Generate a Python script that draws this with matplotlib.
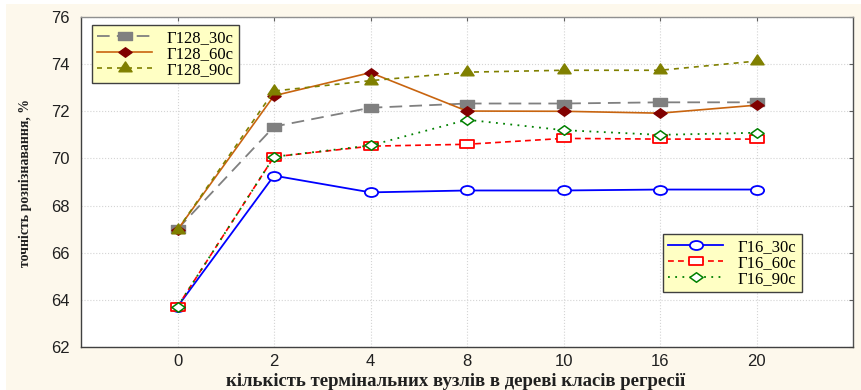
import numpy as np
import matplotlib
matplotlib.use("Agg")
import matplotlib.pyplot as plt
from matplotlib.path import Path
from matplotlib.markers import MarkerStyle
from matplotlib.patches import Rectangle

# Number of terminal nodes in the regression tree (categorical axis)
nodes = ["0", "2", "4", "8", "10", "16", "20"]

# Recognition accuracy, %
g128_30 = [67.0, 71.35, 72.15, 72.33, 72.33, 72.38, 72.38]
g128_60 = [66.97, 72.66, 73.64, 72.01, 72.0, 71.92, 72.26]
g128_90 = [66.97, 72.86, 73.30, 73.66, 73.74, 73.74, 74.13]
g16_30 = [63.71, 69.27, 68.56, 68.64, 68.64, 68.68, 68.68]
g16_60 = [63.71, 70.07, 70.52, 70.60, 70.85, 70.82, 70.82]
g16_90 = [63.71, 70.07, 70.55, 71.64, 71.20, 71.00, 71.09]

yticks = [62, 64, 66, 68, 70, 72, 74, 76]


def wide_marker(verts):
    verts = np.asarray(verts, float)
    codes = [Path.MOVETO] + [Path.LINETO] * (len(verts) - 2) + [Path.CLOSEPOLY]
    return MarkerStyle(Path(verts, codes))


circ = Path.unit_circle()
ellipse = MarkerStyle(Path(circ.vertices * np.array([1.0, 0.68]), circ.codes))
rect = wide_marker([(-1, -0.68), (1, -0.68), (1, 0.68), (-1, 0.68), (-1, -0.68)])
diamond = wide_marker([(0, -0.72), (1, 0), (0, 0.72), (-1, 0), (0, -0.72)])
triangle = wide_marker([(-1, -0.5), (1, -0.5), (0, 1.0), (-1, -0.5)])

fig = plt.figure(figsize=(8.61, 3.90), dpi=100, facecolor="white")
fig.patches.append(Rectangle((6 / 861, 0), 1, 1 - 4 / 390, transform=fig.transFigure,
                             facecolor="#fdf8ec", edgecolor="none", zorder=-10))

W, H = 861, 390
ax = fig.add_axes([81 / W, 1 - 347 / H, (853 - 81) / W, (347 - 17) / H])
ax.set_facecolor("white")

x = np.arange(len(nodes))
ms = 9.5

# Г16 series
l16_30, = ax.plot(x, g16_30, color="#0000ff", lw=1.3, ls="-", marker=ellipse, ms=ms,
                  mfc="white", mec="#0000ff", mew=1.3, label="Г16_30с")
l16_60, = ax.plot(x, g16_60, color="#ff0000", lw=1.2, ls=(0, (3.5, 2.5)), marker=rect, ms=ms,
                  mfc="white", mec="#ff0000", mew=1.3, label="Г16_60с")
l16_90, = ax.plot(x, g16_90, color="#008000", lw=1.3, ls=(0, (1, 3)), marker=diamond, ms=ms,
                  mfc="white", mec="#008000", mew=1.1, label="Г16_90с")

# Г128 series
l128_30, = ax.plot(x, g128_30, color="#808080", lw=1.3, ls=(0, (7, 4)), marker=rect, ms=ms,
                   mfc="#808080", mec="#808080", label="Г128_30с")
l128_60, = ax.plot(x, g128_60, color="#c8640f", lw=1.2, ls="-", marker=diamond, ms=ms,
                   mfc="#800000", mec="#800000", label="Г128_60с")
l128_90, = ax.plot(x, g128_90, color="#808000", lw=1.2, ls=(0, (3, 3)), marker=triangle, ms=ms,
                   mfc="#808000", mec="#808000", label="Г128_90с")

ax.set_xlim(-1, 7)
ax.set_ylim(62, 76)
ax.set_xticks(x)
ax.set_xticklabels(nodes)
ax.set_yticks(yticks)

ax.grid(True, color="#d4d4d4", ls=":", lw=0.8)
ax.set_axisbelow(True)

for lab in ax.get_xticklabels() + ax.get_yticklabels():
    lab.set_fontfamily("Liberation Sans")
    lab.set_fontsize(12)
    lab.set_color("#202020")

ax.tick_params(axis="x", which="both", bottom=False, top=True, direction="in",
               length=3, color="#606060", pad=5)
ax.tick_params(axis="y", which="both", left=False, right=True, direction="in",
               length=3, color="#606060", pad=8)

for side, col in [("left", "#404040"), ("bottom", "#404040"),
                  ("right", "#505050"), ("top", "#909090")]:
    ax.spines[side].set_color(col)
    ax.spines[side].set_linewidth(1.0)

leg_kw = dict(prop=dict(family="Liberation Serif", size=12), frameon=True, fancybox=False,
              framealpha=1, facecolor="#ffffc4", edgecolor="#404040", borderaxespad=0,
              loc="upper left", handlelength=3.3, handletextpad=0.9, labelspacing=0.0,
              borderpad=0.3)
leg1 = ax.legend(handles=[l128_30, l128_60, l128_90],
                 bbox_to_anchor=((92 - 81) / 772, 1 - (25 - 17) / 330), **leg_kw)
leg1.get_frame().set_linewidth(1.0)
ax.add_artist(leg1)
leg2 = ax.legend(handles=[l16_30, l16_60, l16_90],
                 bbox_to_anchor=((663 - 81) / 772, 1 - (234 - 17) / 330), **leg_kw)
leg2.get_frame().set_linewidth(1.0)

fig.text(456 / W, 1 - 381 / H, "кількість термінальних вузлів в дереві класів регресії",
         family="Liberation Serif", weight="bold", size=13.5, ha="center", va="center",
         color="#202020")
fig.text(25 / W, 1 - 183 / H, "точність розпізнавання, %", family="Liberation Serif",
         weight="bold", size=10, rotation=90, ha="center", va="center", color="#202020")

fig.savefig("out.png", dpi=100, facecolor=fig.get_facecolor())
